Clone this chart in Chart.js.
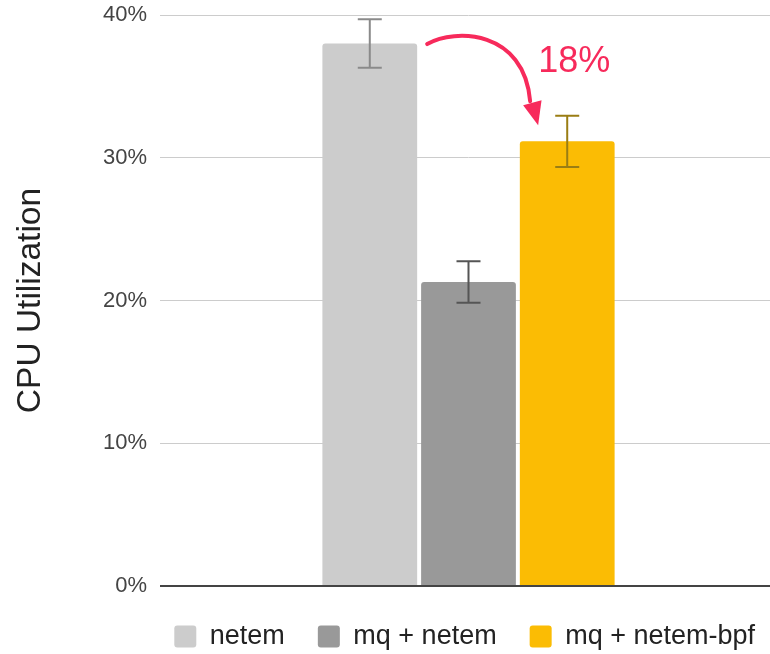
<!DOCTYPE html>
<html>
<head>
<meta charset="utf-8">
<script src="https://cdn.jsdelivr.net/npm/chart.js@4.4.1/dist/chart.umd.min.js"></script>
<style>
  html, body { margin: 0; padding: 0; background: #fff; overflow: hidden; }
  #wrap { width: 777px; height: 654px; }
</style>
</head>
<body>
<div id="wrap"><canvas id="grafico"></canvas></div>
<script>
// dados
const series = ['netem', 'mq + netem', 'mq + netem-bpf'];
const cpuMedia = [38.0, 21.3, 31.15];
const cpuErro = [1.7, 1.45, 1.8];
const coresBarra = ['#cccccc', '#999999', '#fbbc04'];
const coresErro = ['#8a8a8a', '#555555', '#9a7d14'];
const yTicks = [0, 10, 20, 30, 40];
const reducaoTexto = '18%';

const fonte = '"Liberation Sans", Arial, sans-serif';

// barras de erro
const errorBars = {
    id: 'errorBars',
    afterDatasetsDraw(chart) {
        const ctx = chart.ctx;
        const y = chart.scales.y;
        ctx.save();
        chart.data.datasets.forEach((ds, i) => {
            const bar = chart.getDatasetMeta(i).data[0];
            const top = y.getPixelForValue(cpuMedia[i] + cpuErro[i]);
            const bot = y.getPixelForValue(cpuMedia[i] - cpuErro[i]);
            ctx.strokeStyle = coresErro[i];
            ctx.lineWidth = 2;
            ctx.beginPath();
            ctx.moveTo(bar.x, top); ctx.lineTo(bar.x, bot);
            ctx.moveTo(bar.x - 12, top); ctx.lineTo(bar.x + 12, top);
            ctx.moveTo(bar.x - 12, bot); ctx.lineTo(bar.x + 12, bot);
            ctx.stroke();
        });
        ctx.restore();
    }
};

// seta e texto 18%
const seta = {
    id: 'seta',
    afterDatasetsDraw(chart) {
        const ctx = chart.ctx;
        const y = chart.scales.y;
        const b0 = chart.getDatasetMeta(0).data[0];
        const b2 = chart.getDatasetMeta(2).data[0];
        const x0 = b0.x + b0.width / 2 + 10;
        const y0 = b0.y + 0.5;
        const tipX = b2.x - b2.width / 2 + 18.3;
        const tipY = y.getPixelForValue(cpuMedia[2] + cpuErro[2]) + 9.5;
        const cor = '#f72a5b';
        ctx.save();
        ctx.strokeStyle = cor;
        ctx.fillStyle = cor;
        ctx.lineWidth = 4;
        ctx.lineCap = 'round';
        ctx.beginPath();
        ctx.moveTo(x0, y0);
        ctx.bezierCurveTo(x0 + 28, y0 - 16, tipX - 14, y0 - 14, tipX - 8, tipY - 24);
        ctx.stroke();
        ctx.beginPath();
        ctx.moveTo(tipX, tipY);
        ctx.lineTo(tipX - 15, tipY - 20);
        ctx.lineTo(tipX + 3.4, tipY - 25);
        ctx.closePath();
        ctx.fill();
        ctx.font = '36px ' + fonte;
        ctx.textAlign = 'center';
        ctx.textBaseline = 'middle';
        ctx.fillText(reducaoTexto, b2.x + 7, y.getPixelForValue(36.7));
        ctx.restore();
    }
};

// empurra a legenda um pouco para a direita
const legendaDireita = {
    id: 'legendaDireita',
    afterLayout(chart) {
        chart.legend.left += 11;
        chart.legend.right += 11;
    }
};

const ctx = document.getElementById('grafico').getContext('2d');
new Chart(ctx, {
    type: 'bar',
    data: {
        labels: [''],
        datasets: series.map((nome, i) => ({
            label: nome,
            data: [cpuMedia[i]],
            backgroundColor: coresBarra[i],
            borderRadius: 3,
            borderSkipped: 'bottom',
            categoryPercentage: 0.48,
            barPercentage: 0.96
        }))
    },
    options: {
        responsive: true,
        maintainAspectRatio: false,
        animation: false,
        layout: { padding: { top: 15, right: 0, left: 0, bottom: -6 } },
        scales: {
            x: {
                ticks: { display: false },
                grid: { display: false, drawTicks: false },
                border: { display: false },
                afterFit: (s) => { s.height = 4; }
            },
            y: {
                min: 0,
                max: 40,
                afterBuildTicks: (s) => { s.ticks = yTicks.map(v => ({ value: v })); },
                afterFit: (s) => { s.width = 160; s.paddingTop = 0; },
                ticks: {
                    padding: 13,
                    color: '#444',
                    font: { family: fonte, size: 22 },
                    callback: (v) => v + '%'
                },
                grid: {
                    drawTicks: false,
                    color: (c) => c.tick && c.tick.value === 0 ? '#444' : '#cccccc',
                    lineWidth: (c) => c.tick && c.tick.value === 0 ? 2 : 1
                },
                border: { display: false },
                title: {
                    display: true,
                    text: 'CPU Utilization',
                    color: '#222',
                    font: { family: fonte, size: 33.5 },
                    padding: { top: 11, bottom: 0 }
                }
            }
        },
        plugins: {
            legend: {
                position: 'bottom',
                align: 'end',
                labels: {
                    color: '#222',
                    font: { family: fonte, size: 27 },
                    boxWidth: 22,
                    boxHeight: 22,
                    useBorderRadius: true,
                    borderRadius: 3,
                    padding: 33
                }
            },
            tooltip: { enabled: false }
        }
    },
    plugins: [errorBars, seta, legendaDireita]
});
</script>
</body>
</html>
